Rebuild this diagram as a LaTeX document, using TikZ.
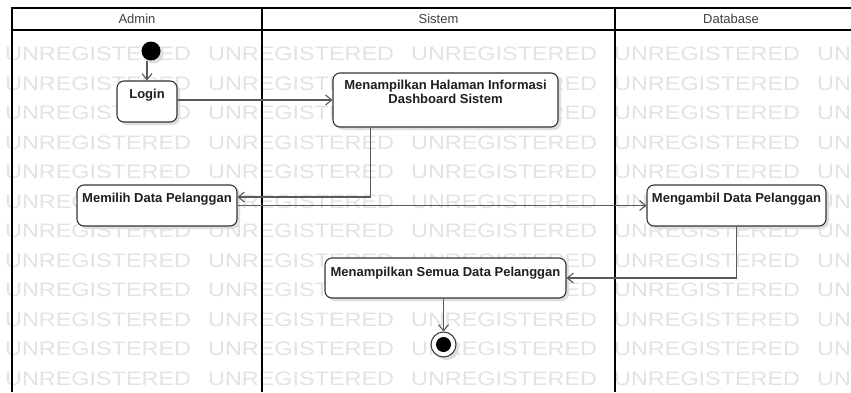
\documentclass[tikz,border=0pt]{standalone}
\usepackage{graphicx}
\usepackage{fontspec}
\setmainfont{Liberation Sans}
\usetikzlibrary{arrows.meta,shadows,calc}
\newcommand\actbox[4]{\parbox[c][#2pt][t]{#1pt}{\centering\baselineskip=14pt\rule{0pt}{#3pt}#4}}
\begin{document}
\begin{tikzpicture}[x=1pt,y=-1pt,
  wm/.style={anchor=west, inner sep=0pt, text=black!11, font=\fontsize{19.5}{20}\selectfont},
  lane/.style={line width=2pt, draw=black},
  hdr/.style={inner sep=0pt, text=black!75, font=\fontsize{13}{14}\selectfont},
  shad/.style={drop shadow={shadow xshift=3pt, shadow yshift=-3pt, fill=black!13, opacity=1}},
  act/.style={draw=black!80, line width=1.1pt, fill=white, rounded corners=7pt, inner sep=0pt, shad,
    font=\fontsize{13}{14}\selectfont\bfseries, text=black!88},
  flow/.style={draw=black!65, line width=1.1pt, -{Straight Barb[length=6pt,width=10pt]}},
]
\useasboundingbox (0,0) rectangle (851,392);
\fill[white] (0,0) rectangle (851,392);
% watermark
\foreach \k in {1,...,12} {
  \foreach \j in {0,...,4} {
    \node[wm] at ({5+203*\j},{24.5+29.5*\k}) {\scalebox{1.2}[1]{UNREGISTERED}};
  }
}
% header and lanes
\fill[white] (12,8) rectangle (851,30);
\draw[line width=2pt] (12,8) -- (851,8);
\draw[line width=2pt] (12,30) -- (851,30);
\draw[lane] (12,7) -- (12,392);
\draw[lane] (262,8) -- (262,392);
\draw[lane] (615,8) -- (615,392);
\node[hdr] (hadmin) at (137,19) {Admin};
\node[hdr] (hsistem) at (438.5,19) {Sistem};
\node[hdr] (hdb) at (731,19) {Database};
% nodes
\node[circle, fill=black, minimum size=19pt, inner sep=0pt, shad] (init) at (151,51) {};
\node[act] (login) at (147,101.5) {\actbox{60}{41}{17}{Login}};
\node[act] (halaman) at (445.5,100) {\actbox{225}{54}{16.5}{Menampilkan Halaman Informasi\\Dashboard Sistem}};
\node[act] (memilih) at (157,205.5) {\actbox{160}{41}{17.5}{Memilih Data Pelanggan}};
\node[act] (mengambil) at (736.5,205.5) {\actbox{179}{41}{17.5}{Mengambil Data Pelanggan}};
\node[act] (semua) at (445.5,278) {\actbox{241}{40}{18}{Menampilkan Semua Data Pelanggan}};
\node[circle, draw=black!80, line width=1pt, fill=white, minimum size=25pt, inner sep=0pt, shad] (final) at (443.5,344.5) {};
\node[circle, fill=black, minimum size=15pt, inner sep=0pt] (finaldot) at (final.center) {};
% connectors
\draw[flow] (login.north |- init.south) -- (login.north);
\draw[flow] (login.east |- halaman.west) -- (halaman.west);
\coordinate (h1) at ($(halaman.south west)+(38,0)$);
\draw[flow] (h1) |- ($(memilih.east)+(0,-8.5)$);
\draw[flow] (memilih.east) -- (mengambil.west);
\draw[flow] (mengambil.south) |- (semua.east);
\draw[flow] (semua.south -| final.north) -- (final.north);
\end{tikzpicture}
\end{document}
